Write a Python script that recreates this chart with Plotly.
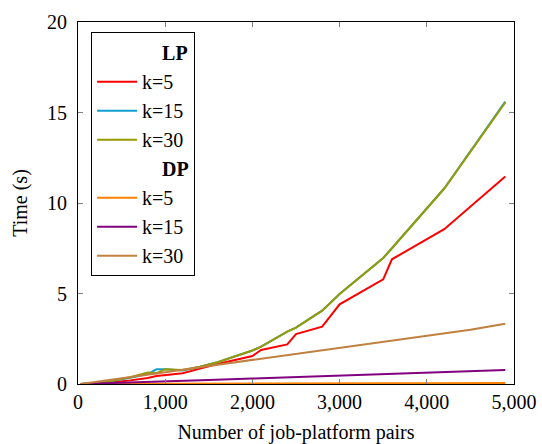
import plotly.graph_objects as go

# LP data
lp_x = [30, 300, 600, 800, 900, 1000, 1200, 1400, 1600, 2000, 2100, 2400, 2500, 2800, 3000, 3500, 3600, 4200, 4900]
lp_k5 = [0.0, 0.05, 0.2, 0.33, 0.44, 0.5, 0.59, 0.85, 1.1, 1.55, 1.88, 2.19, 2.76, 3.17, 4.40, 5.78, 6.89, 8.55, 11.47]
lp_k15 = [0.0, 0.1, 0.35, 0.55, 0.81, 0.81, 0.75, 0.95, 1.2, 1.85, 2.06, 2.89, 3.11, 4.05, 4.97, 6.96, 7.5, 10.8, 15.6]
lp_k30 = [0.0, 0.1, 0.37, 0.63, 0.6, 0.81, 0.77, 0.95, 1.2, 1.85, 2.06, 2.89, 3.11, 4.05, 4.97, 6.96, 7.5, 10.8, 15.55]

# DP data
dp_x = [30, 500, 1000, 1500, 2000, 2500, 3000, 3500, 4000, 4500, 4900]
dp_k5 = [0.0, 0.01, 0.01, 0.02, 0.02, 0.03, 0.03, 0.04, 0.04, 0.05, 0.05]
dp_k15 = [0.0, 0.06, 0.14, 0.22, 0.3, 0.38, 0.46, 0.54, 0.62, 0.7, 0.77]
dp_k30 = [0.0, 0.3, 0.65, 1.0, 1.33, 1.65, 1.98, 2.32, 2.66, 3.0, 3.33]

x_ticks = [0, 1000, 2000, 3000, 4000, 5000]
x_ticklabels = ["0", "1,000", "2,000", "3,000", "4,000", "5,000"]
y_ticks = [0, 5, 10, 15, 20]

FONT = "Liberation Serif, serif"
FS = 20
fig = go.Figure()

def header(name):
    fig.add_trace(go.Scatter(x=[None], y=[None], mode="lines", name=name,
                             line=dict(width=0, color="rgba(0,0,0,0)"), hoverinfo="skip"))

header("    <b>LP</b>")
for ys, nm, col in [(lp_k5, "k=5", "#ff0000"), (lp_k15, "k=15", "#10a0d0"), (lp_k30, "k=30", "#999900")]:
    fig.add_trace(go.Scatter(x=lp_x, y=ys, mode="lines", name=nm, line=dict(color=col, width=2)))
header("    <b>DP</b>")
for ys, nm, col in [(dp_k5, "k=5", "#ff8000"), (dp_k15, "k=15", "#800080"), (dp_k30, "k=30", "#c08040")]:
    fig.add_trace(go.Scatter(x=dp_x, y=ys, mode="lines", name=nm, line=dict(color=col, width=2)))

axis_common = dict(showgrid=False, zeroline=False, showline=True, linecolor="black", linewidth=1,
                   mirror="allticks", ticks="inside", ticklen=5, tickcolor="#808080", automargin=False,
                   tickfont=dict(family=FONT, size=FS, color="black"))

fig.update_layout(
    width=542, height=444,
    margin=dict(l=78, r=28, t=22, b=60),
    paper_bgcolor="white", plot_bgcolor="white",
    font=dict(family=FONT, size=FS, color="black"),
    xaxis=dict(range=[0, 5000], tickvals=x_ticks, ticktext=x_ticklabels, ticklabelstandoff=0,
               title=dict(text="Number of job-platform pairs", font=dict(family=FONT, size=FS), standoff=16),
               **axis_common),
    yaxis=dict(range=[0, 20], tickvals=y_ticks, ticklabelstandoff=6,
               title=dict(text="Time (s)", font=dict(family=FONT, size=FS), standoff=14),
               **axis_common),
    legend=dict(x=0.03, y=0.972, xanchor="left", yanchor="top", bordercolor="black", borderwidth=1,
                bgcolor="white", font=dict(family=FONT, size=FS), tracegroupgap=0, itemwidth=40,
                entrywidth=110, entrywidthmode="pixels"),
    showlegend=True,
)

fig.write_html("out.html")
